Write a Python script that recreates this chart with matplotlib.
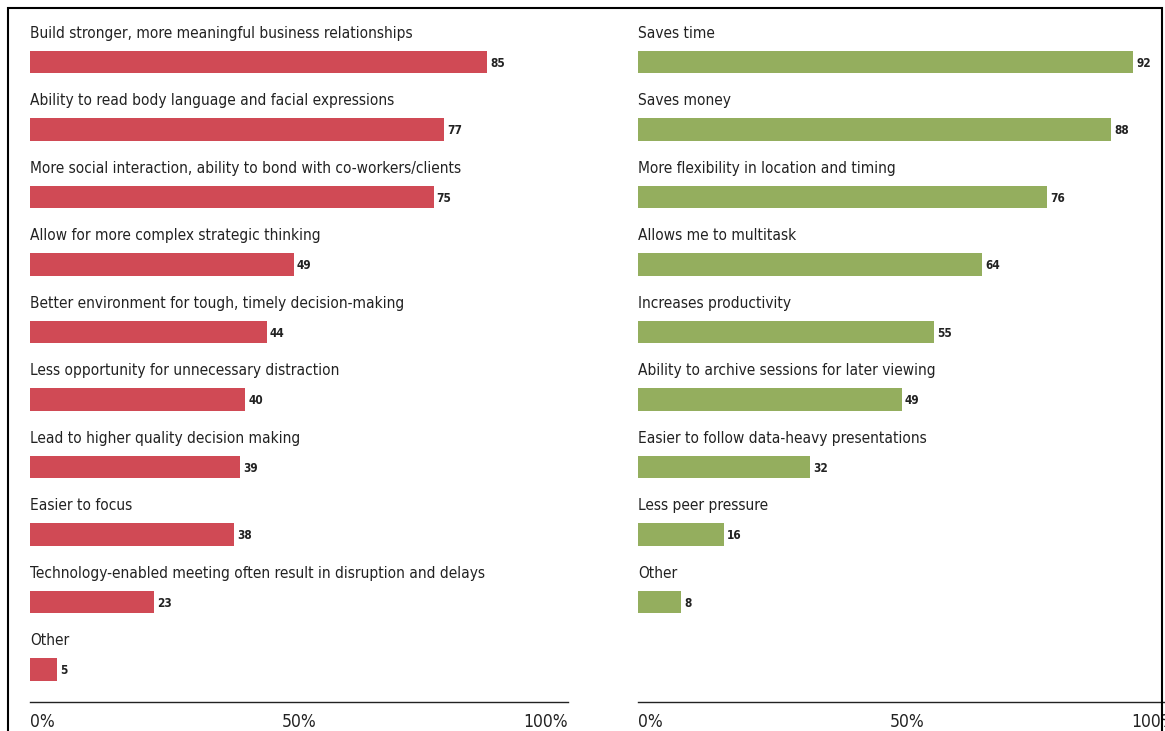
import matplotlib.pyplot as plt
from matplotlib.patches import Rectangle

plt.rcParams['font.family'] = ['DejaVu Sans']
plt.rcParams['font.stretch'] = 'condensed'

left_labels = [
    "Build stronger, more meaningful business relationships",
    "Ability to read body language and facial expressions",
    "More social interaction, ability to bond with co-workers/clients",
    "Allow for more complex strategic thinking",
    "Better environment for tough, timely decision-making",
    "Less opportunity for unnecessary distraction",
    "Lead to higher quality decision making",
    "Easier to focus",
    "Technology-enabled meeting often result in disruption and delays",
    "Other",
]
left_values = [85, 77, 75, 49, 44, 40, 39, 38, 23, 5]

right_labels = [
    "Saves time",
    "Saves money",
    "More flexibility in location and timing",
    "Allows me to multitask",
    "Increases productivity",
    "Ability to archive sessions for later viewing",
    "Easier to follow data-heavy presentations",
    "Less peer pressure",
    "Other",
]
right_values = [92, 88, 76, 64, 55, 49, 32, 16, 8]

tick_vals = [0, 50, 100]
tick_text = ["0%", "50%", "100%"]

W, H = 1165, 731
fig = plt.figure(figsize=(W / 100, H / 100), dpi=100)


def panel(x0, labels, values, color):
    ax = fig.add_axes([x0 / W, (H - 702) / H, 538 / W, 702 / H])
    ys = range(len(values))
    ax.barh(ys, values, height=0.33, color=color, edgecolor='none')
    for y, lab, v in zip(ys, labels, values):
        ax.text(0, y - 0.43, lab, fontsize=11.1, color='#222222', va='center', ha='left')
        ax.text(v + 0.6, y + 0.02, str(v), fontsize=8.5, fontweight='bold',
                color='#222222', va='center', ha='left')
    ax.set_xlim(0, 100)
    ax.set_ylim(9.48, -0.92)
    for s in ['top', 'left', 'right']:
        ax.spines[s].set_visible(False)
    ax.spines['bottom'].set_color('#222222')
    ax.spines['bottom'].set_linewidth(1.0)
    ax.set_yticks([])
    ax.set_xticks(tick_vals)
    ax.set_xticklabels(tick_text, fontsize=12.5, color='#222222')
    ax.tick_params(axis='x', length=0, pad=8)
    tl = ax.get_xticklabels()
    tl[0].set_ha('left')
    tl[-1].set_ha('right')
    return ax


panel(30, left_labels, left_values, '#D04A55')
panel(638, right_labels, right_values, '#94AE5E')

# outer frame
fig.patches.append(Rectangle((8 / W, -0.1), (1162 - 8) / W, (H - 8) / H + 0.1,
                             transform=fig.transFigure, fill=False,
                             edgecolor='black', linewidth=1.5))

fig.savefig('out.png', dpi=100)
